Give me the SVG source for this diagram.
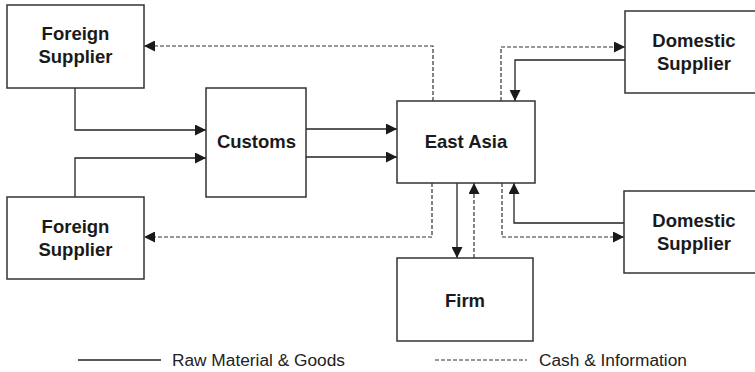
<svg xmlns="http://www.w3.org/2000/svg" width="755" height="372" viewBox="0 0 755 372">
  <style>
    .box { fill: #fff; stroke: #333; stroke-width: 1.5; }
    .label { font-family: "Liberation Sans", Arial, Helvetica, sans-serif; font-weight: bold; font-size: 18.5px; fill: #1a1a1a; text-anchor: middle; }
    .legend { font-family: "Liberation Sans", Arial, Helvetica, sans-serif; font-size: 17.3px; fill: #222; }
    .flow { fill: none; stroke: #222; stroke-width: 1.3; }
    .cash { fill: none; stroke: #333; stroke-width: 1.2; stroke-dasharray: 4 2; }
  </style>
  <defs>
    <marker id="arrow" markerUnits="userSpaceOnUse" markerWidth="11" markerHeight="11" viewBox="0 0 10 10" refX="10" refY="5" orient="auto">
      <path d="M0,0 L10,5 L0,10 Z" fill="#1a1a1a"/>
    </marker>
  </defs>

  <rect width="755" height="372" fill="#fff"/>

  <!-- connectors -->
  <g id="connectors">
    <!-- goods: foreign suppliers into customs -->
    <path class="flow" d="M75,88 V130 H206" marker-end="url(#arrow)"/>
    <path class="flow" d="M75,197 V158 H206" marker-end="url(#arrow)"/>
    <!-- goods: customs into East Asia -->
    <path class="flow" d="M306,129 H397" marker-end="url(#arrow)"/>
    <path class="flow" d="M306,157 H397" marker-end="url(#arrow)"/>
    <!-- cash: East Asia to foreign suppliers -->
    <path class="cash" d="M433,101 V46 H144" marker-end="url(#arrow)"/>
    <path class="cash" d="M432,183 V237 H144" marker-end="url(#arrow)"/>
    <!-- domestic supplier (top) -->
    <path class="cash" d="M501,101 V47 H625" marker-end="url(#arrow)"/>
    <path class="flow" d="M625,60 H515 V101" marker-end="url(#arrow)"/>
    <!-- firm -->
    <path class="flow" d="M457,183 V258" marker-end="url(#arrow)"/>
    <path class="cash" d="M474,258 V183" marker-end="url(#arrow)"/>
    <!-- domestic supplier (bottom) -->
    <path class="flow" d="M624,223 H514 V183" marker-end="url(#arrow)"/>
    <path class="cash" d="M502,183 V237 H624" marker-end="url(#arrow)"/>
  </g>

  <!-- nodes -->
  <g id="foreign-supplier-top">
    <rect class="box" x="7" y="5" width="137" height="83"/>
    <text class="label" x="75.5" y="40">Foreign</text>
    <text class="label" x="75.5" y="63">Supplier</text>
  </g>
  <g id="foreign-supplier-bottom">
    <rect class="box" x="7" y="197" width="137" height="82"/>
    <text class="label" x="75.5" y="233">Foreign</text>
    <text class="label" x="75.5" y="256">Supplier</text>
  </g>
  <g id="customs">
    <rect class="box" x="206" y="88" width="100" height="109"/>
    <text class="label" x="256.5" y="148">Customs</text>
  </g>
  <g id="east-asia">
    <rect class="box" x="397" y="101" width="138" height="82"/>
    <text class="label" x="466" y="148">East Asia</text>
  </g>
  <g id="firm">
    <rect class="box" x="397" y="258" width="136" height="83"/>
    <text class="label" x="465" y="307">Firm</text>
  </g>
  <g id="domestic-supplier-top">
    <rect class="box" x="625" y="11" width="140" height="82"/>
    <text class="label" x="694" y="47">Domestic</text>
    <text class="label" x="694" y="70">Supplier</text>
  </g>
  <g id="domestic-supplier-bottom">
    <rect class="box" x="624" y="191" width="140" height="82"/>
    <text class="label" x="694" y="227">Domestic</text>
    <text class="label" x="694" y="250">Supplier</text>
  </g>

  <!-- legend -->
  <g id="legend">
    <line class="flow" x1="78" y1="360" x2="161" y2="360"/>
    <text class="legend" x="172" y="366">Raw Material &amp; Goods</text>
    <line class="cash" x1="435" y1="360" x2="527" y2="360"/>
    <text class="legend" x="539" y="366">Cash &amp; Information</text>
  </g>
</svg>
